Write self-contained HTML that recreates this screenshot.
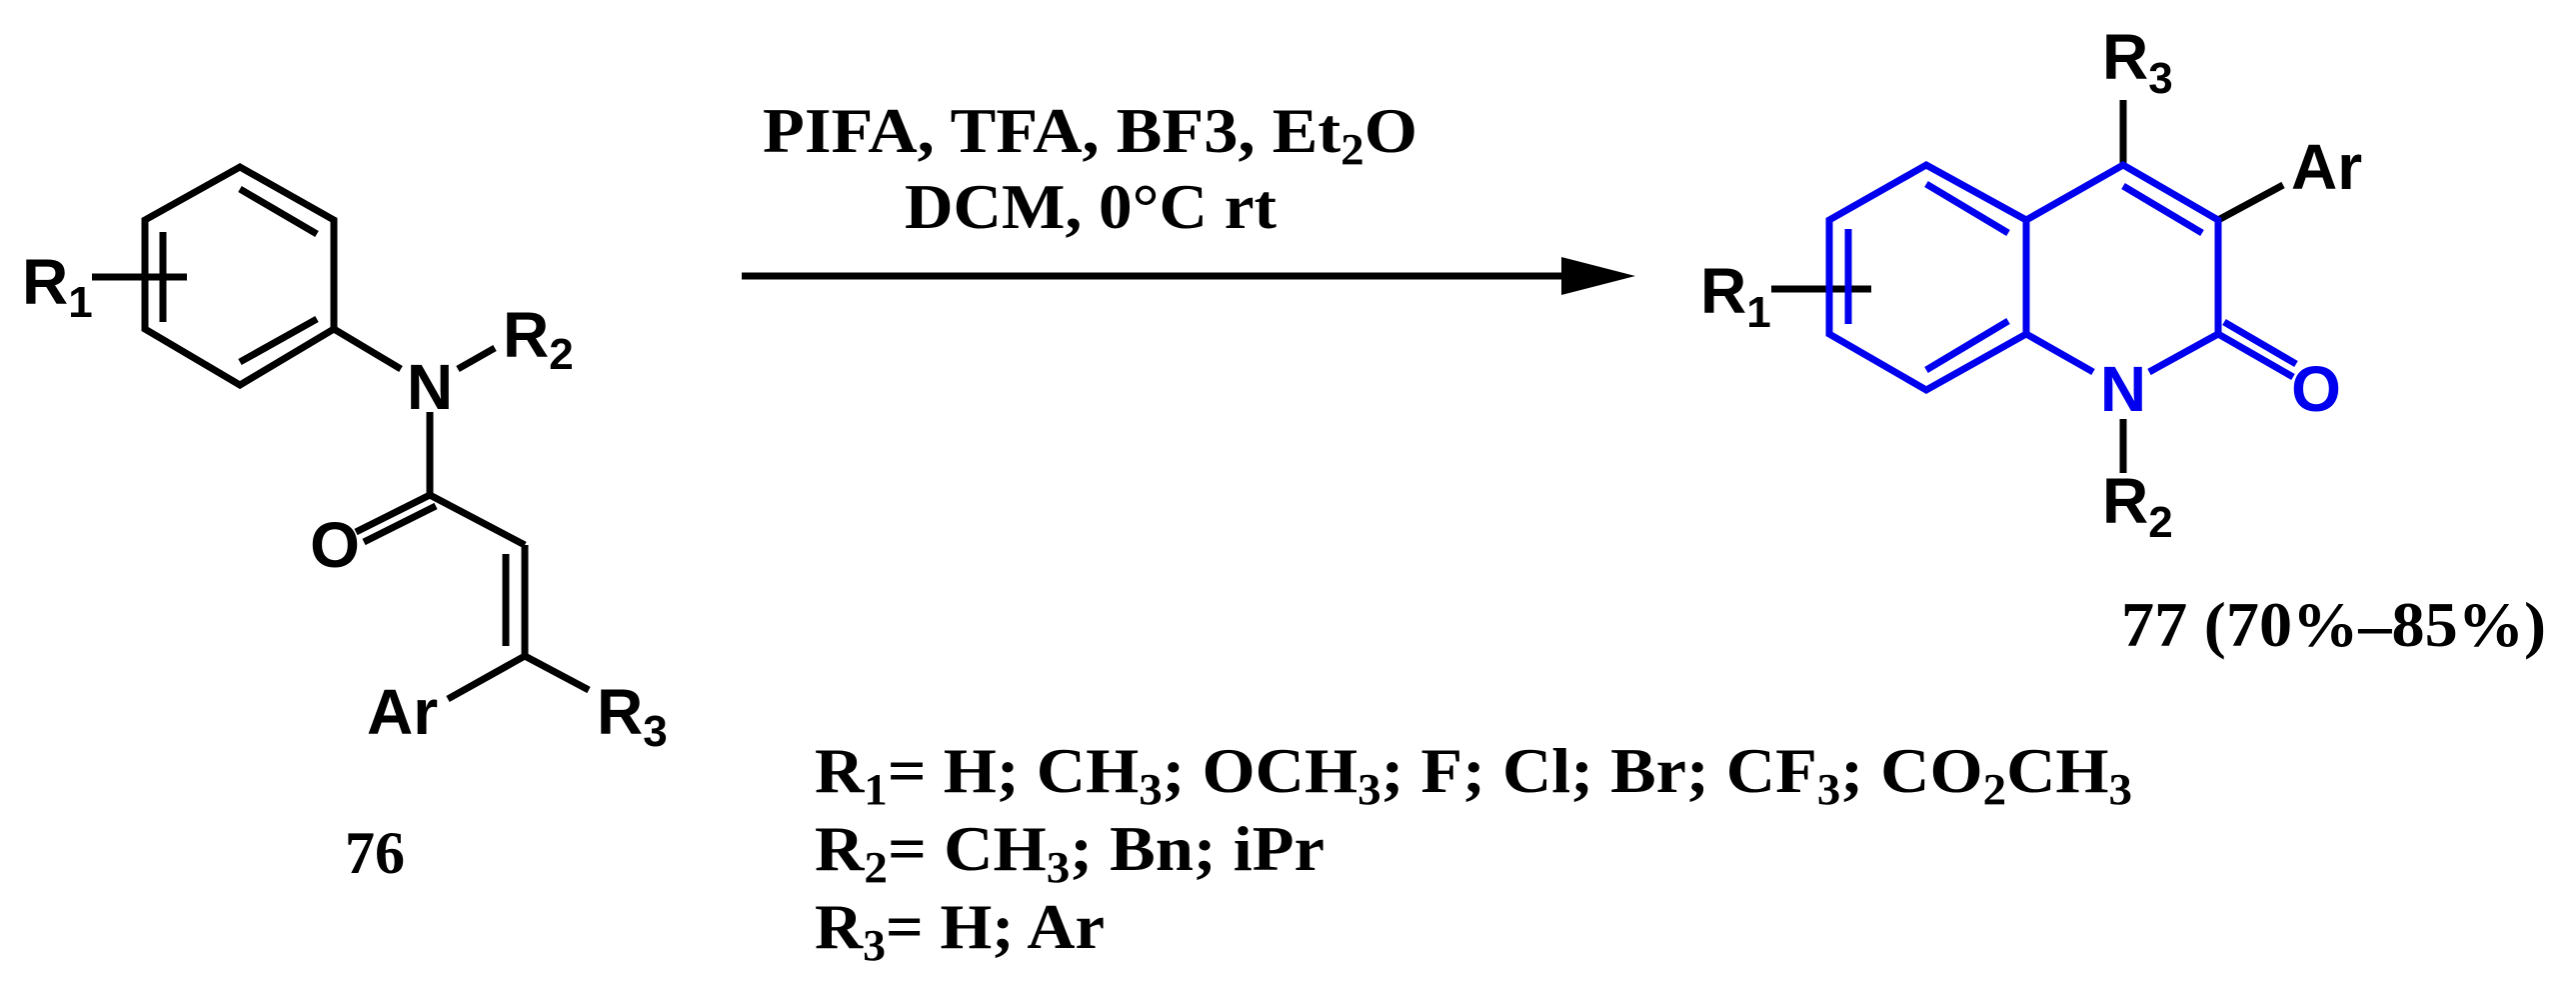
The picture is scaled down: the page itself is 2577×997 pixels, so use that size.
<!DOCTYPE html>
<html><head><meta charset="utf-8"><style>html,body{margin:0;padding:0;background:#fff}svg{display:block}</style></head>
<body>
<svg width="2577" height="997" viewBox="0 0 2577 997" xmlns="http://www.w3.org/2000/svg">
<g stroke="#000" stroke-width="7" fill="none" stroke-linecap="butt">
<polygon points="240,167 145,220 145,329 240,385 334,329 334,220"/>
<line x1="163" y1="232" x2="163" y2="322"/>
<line x1="240" y1="189" x2="317" y2="234"/>
<line x1="240" y1="362" x2="317" y2="319"/>
<line x1="92" y1="277" x2="187" y2="277"/>
<line x1="334" y1="329" x2="401" y2="369"/>
<line x1="458" y1="369" x2="495" y2="348"/>
<line x1="430" y1="412" x2="430" y2="495"/>
<line x1="430" y1="495" x2="356" y2="532"/>
<line x1="436" y1="506" x2="364" y2="542"/>
<line x1="430" y1="495" x2="525" y2="545"/>
<line x1="525" y1="545" x2="525" y2="656"/>
<line x1="506" y1="554" x2="506" y2="646"/>
<line x1="525" y1="656" x2="448" y2="699"/>
<line x1="525" y1="656" x2="589" y2="690"/>
<line x1="742" y1="276" x2="1570" y2="276" stroke-width="7"/>
<line x1="1772" y1="289" x2="1872" y2="289"/>
<line x1="2124" y1="164" x2="2124" y2="100"/>
<line x1="2219" y1="220" x2="2284" y2="185"/>
<line x1="2124" y1="419" x2="2124" y2="473"/>
</g>
<polygon points="1562,257 1636,276 1562,295" fill="#000"/>
<g stroke="#0000ee" stroke-width="7" fill="none">
<polygon points="1927,165 1830,220 1830,334 1927,390 2027,334 2027,220"/>
<line x1="1849" y1="229" x2="1849" y2="324"/>
<line x1="1927" y1="184" x2="2009" y2="233"/>
<line x1="1927" y1="370" x2="2009" y2="321"/>
<polyline points="2027,220 2124,165 2219,220 2219,334"/>
<line x1="2124" y1="186" x2="2203" y2="233"/>
<line x1="2027" y1="334" x2="2094" y2="372"/>
<line x1="2150" y1="372" x2="2219" y2="334"/>
<line x1="2219" y1="334" x2="2294" y2="377"/>
<line x1="2225" y1="322" x2="2297" y2="364"/>
</g>
<g font-family="Liberation Sans, sans-serif" font-weight="bold" font-size="64" fill="#000">
<text x="22" y="304">R<tspan font-size="44" dy="13">1</tspan></text>
<text x="430" y="409" text-anchor="middle">N</text>
<text x="503" y="357">R<tspan font-size="44" dy="12">2</tspan></text>
<text x="335" y="567" text-anchor="middle">O</text>
<text x="367" y="734">Ar</text>
<text x="597" y="734">R<tspan font-size="44" dy="12">3</tspan></text>
<text x="2103" y="79">R<tspan font-size="44" dy="14">3</tspan></text>
<text x="2292" y="189">Ar</text>
<text x="1701" y="313">R<tspan font-size="44" dy="14">1</tspan></text>
<text x="2103" y="523">R<tspan font-size="44" dy="14">2</tspan></text>
<text x="2124" y="411" text-anchor="middle" fill="#0000ee">N</text>
<text x="2317" y="411" text-anchor="middle" fill="#0000ee">O</text>
</g>
<g font-family="Liberation Serif, serif" font-weight="bold" font-size="64" fill="#000">
<text x="375" y="873" text-anchor="middle" font-size="60">76</text>
<text x="2122" y="646" textLength="425" lengthAdjust="spacingAndGlyphs">77 (70%–85%)</text>
<text x="763" y="152" textLength="655" lengthAdjust="spacingAndGlyphs">PIFA, TFA, BF3, Et<tspan font-size="44" dy="12">2</tspan><tspan dy="-12">O</tspan></text>
<text x="905" y="228" textLength="372" lengthAdjust="spacingAndGlyphs">DCM, 0°C rt</text>
<text x="815" y="792" textLength="1318" lengthAdjust="spacingAndGlyphs">R<tspan font-size="44" dy="12">1</tspan><tspan dy="-12">= H; CH</tspan><tspan font-size="44" dy="12">3</tspan><tspan dy="-12">; OCH</tspan><tspan font-size="44" dy="12">3</tspan><tspan dy="-12">; F; Cl; Br; CF</tspan><tspan font-size="44" dy="12">3</tspan><tspan dy="-12">; CO</tspan><tspan font-size="44" dy="12">2</tspan><tspan dy="-12">CH</tspan><tspan font-size="44" dy="12">3</tspan></text>
<text x="815" y="870" textLength="510" lengthAdjust="spacingAndGlyphs">R<tspan font-size="44" dy="12">2</tspan><tspan dy="-12">= CH</tspan><tspan font-size="44" dy="12">3</tspan><tspan dy="-12">; Bn; iPr</tspan></text>
<text x="815" y="948" textLength="290" lengthAdjust="spacingAndGlyphs">R<tspan font-size="44" dy="12">3</tspan><tspan dy="-12">= H; Ar</tspan></text>
</g>
</svg>
</body></html>
